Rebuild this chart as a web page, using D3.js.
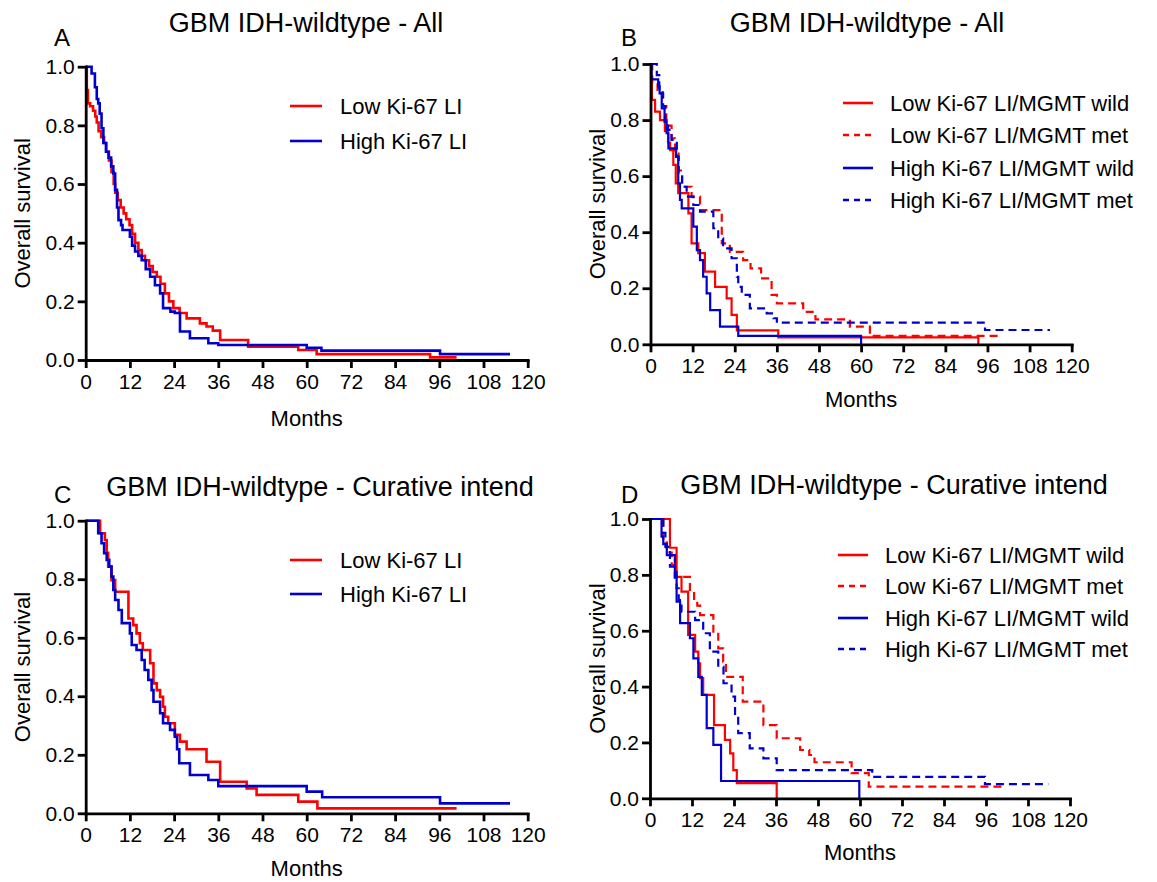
<!DOCTYPE html>
<html>
<head>
<meta charset="utf-8">
<script src="https://cdn.jsdelivr.net/npm/d3@7"></script>
<style>
  body { margin: 0; background: #fff; }
  svg { font-family: Arial, "Liberation Sans", sans-serif; }
  .axis path, .axis line { stroke: #000; stroke-width: 2.8; }
  .axis text { font-size: 21px; fill: #000; }
</style>
</head>
<body>
<div id="chart"></div>
<script>
// tick values
var monthTicks = [0, 12, 24, 36, 48, 60, 72, 84, 96, 108, 120];
var survTicks = [0, 0.2, 0.4, 0.6, 0.8, 1.0];

// Kaplan-Meier steps [month, survival]
var allLow = [[0,1.0],[0.3,0.92],[0.6,0.875],[1.2,0.865],[2.0,0.85],[2.6,0.83],[3.0,0.81],[3.5,0.78],[4.2,0.76],[5.0,0.74],[5.6,0.71],[6.3,0.68],[7.0,0.64],[7.6,0.6],[8.0,0.57],[8.7,0.545],[9.5,0.52],[10.3,0.50],[11.0,0.48],[11.9,0.46],[12.6,0.43],[13.4,0.40],[14.3,0.375],[15.2,0.355],[16.1,0.34],[17.2,0.32],[18.2,0.30],[19.3,0.284],[20.3,0.26],[21.5,0.227],[22.6,0.20],[23.8,0.177],[25.5,0.16],[27.4,0.142],[31,0.125],[32.8,0.114],[34.5,0.10],[36.5,0.068],[44.1,0.045],[57.7,0.034],[62.7,0.02],[93.5,0.009],[100.7,0.009]];
var allHigh = [[0,1.0],[1.6,0.977],[2.5,0.93],[3.0,0.89],[3.4,0.875],[3.8,0.84],[4.3,0.79],[4.8,0.74],[5.5,0.71],[6.2,0.69],[6.9,0.66],[7.5,0.636],[8.0,0.58],[8.5,0.52],[8.9,0.477],[9.6,0.46],[10.0,0.443],[12.0,0.42],[12.6,0.39],[13.4,0.37],[14.3,0.355],[15.2,0.34],[16.3,0.31],[17.5,0.284],[18.8,0.255],[20.2,0.227],[21.0,0.177],[23.0,0.165],[24.2,0.16],[25.6,0.097],[28.3,0.074],[33.3,0.057],[36,0.051],[60,0.042],[64,0.032],[96.2,0.020],[115.2,0.020]];

var allLowWild = [[0,0.93],[0.4,0.872],[1.3,0.83],[2.7,0.80],[4.1,0.76],[5.0,0.72],[5.6,0.693],[6.5,0.64],[7.2,0.574],[7.9,0.539],[10.8,0.467],[11.7,0.36],[13.6,0.325],[15.5,0.259],[18.4,0.205],[21.7,0.164],[23.1,0.105],[24.6,0.05],[36.4,0.025],[93.4,0]];
var allLowMet = [[0,1.0],[0.5,0.93],[2,0.90],[3.5,0.85],[4.5,0.78],[6,0.735],[7,0.68],[8,0.62],[9,0.562],[11.7,0.527],[14.1,0.479],[20.3,0.36],[22.6,0.33],[26.4,0.30],[28.5,0.271],[31.5,0.235],[34.5,0.176],[36,0.146],[43.5,0.116],[47,0.089],[56.8,0.063],[62.5,0.03],[100,0.03]];
var allHighWild = [[0,1.0],[0.3,0.945],[2.2,0.92],[2.6,0.895],[3.2,0.842],[4.0,0.794],[4.6,0.753],[5.1,0.699],[7.3,0.669],[7.9,0.574],[8.4,0.515],[8.9,0.485],[12.2,0.42],[13.2,0.336],[14.1,0.30],[15.0,0.241],[16.0,0.182],[17.0,0.122],[19.8,0.063],[25,0.03],[60,0]];
var allHighMet = [[0,1.0],[1.8,0.96],[2.5,0.895],[3.6,0.85],[4.2,0.80],[5.0,0.765],[6.0,0.729],[7.5,0.67],[8.0,0.61],[9.0,0.562],[10.3,0.527],[12.2,0.497],[14.1,0.473],[17.9,0.414],[19.3,0.378],[20.7,0.342],[23.1,0.307],[24.6,0.241],[25.0,0.205],[26.0,0.176],[28.3,0.128],[33.1,0.11],[35,0.093],[36,0.077],[95.3,0.051],[113.8,0.051]];

var curLow = [[0,1],[3.9,0.957],[5.2,0.934],[5.7,0.89],[6.1,0.843],[7.0,0.797],[8.0,0.757],[11.6,0.666],[12.9,0.643],[13.8,0.615],[14.7,0.581],[15.5,0.558],[17.5,0.513],[18.4,0.444],[19.3,0.421],[20.2,0.398],[21.0,0.364],[21.5,0.33],[22.4,0.308],[24.2,0.268],[25.6,0.245],[27.4,0.219],[32.8,0.176],[36.5,0.108],[43.7,0.085],[46.4,0.063],[57.7,0.04],[62.9,0.017],[100.7,0.017]];
var curHigh = [[0,1],[3.4,0.957],[4.3,0.923],[5.0,0.889],[5.7,0.866],[6.4,0.843],[7.0,0.809],[7.5,0.763],[8.0,0.729],[8.9,0.695],[9.8,0.65],[12.0,0.615],[12.5,0.575],[13.8,0.558],[15.2,0.524],[16.0,0.49],[17.0,0.456],[17.9,0.421],[18.4,0.381],[20.2,0.342],[21.0,0.308],[22.9,0.285],[24.2,0.262],[24.8,0.219],[25.4,0.171],[28.3,0.131],[33.3,0.114],[36,0.093],[60,0.074],[64.2,0.055],[96.2,0.034],[115.2,0.034]];

var curLowWild = [[0,1],[5.7,0.897],[7.6,0.793],[9.0,0.74],[10.9,0.585],[12.9,0.525],[13.8,0.483],[14.3,0.43],[15.2,0.37],[18.3,0.262],[21.4,0.209],[22.9,0.161],[23.8,0.101],[24.8,0.054],[36.2,0]];
var curLowMet = [[0,1],[3.8,0.93],[4.8,0.88],[6.2,0.835],[7.1,0.793],[11.4,0.74],[12.6,0.704],[13.5,0.69],[14.3,0.656],[18.1,0.597],[19.5,0.537],[20.9,0.489],[21.7,0.435],[26.5,0.346],[32.4,0.262],[36.2,0.215],[42.9,0.173],[45.5,0.155],[47,0.129],[57.6,0.09],[62.5,0.042],[100.5,0.042]];
var curHighWild = [[0,1],[3.3,0.937],[3.8,0.91],[4.8,0.871],[7.1,0.811],[7.6,0.704],[8.6,0.627],[11.4,0.573],[12.4,0.501],[13.8,0.435],[14.8,0.37],[16.2,0.251],[18.1,0.191],[20.3,0.062],[59.8,0]];
var curHighMet = [[0,1],[3.8,0.95],[4.4,0.9],[5.7,0.829],[7.1,0.79],[7.6,0.752],[8.2,0.71],[9.0,0.668],[12.9,0.638],[15.2,0.591],[17.1,0.525],[19.5,0.471],[21.0,0.412],[23.3,0.364],[24.3,0.298],[25.2,0.233],[28.5,0.179],[32.4,0.143],[36.2,0.101],[63.5,0.077],[95.7,0.051],[113.8,0.051]];

var legendTwo = ["Low Ki-67 LI", "High Ki-67 LI"];
var legendFour = ["Low Ki-67 LI/MGMT wild", "Low Ki-67 LI/MGMT met", "High Ki-67 LI/MGMT wild", "High Ki-67 LI/MGMT met"];

var RED = "#ff0000", BLUE = "#0000cd";

var svg = d3.select("#chart").append("svg")
    .attr("width", 1157)
    .attr("height", 882);

var panels = [
    { letter: "A", lx: 54, ly: 46, title: "GBM IDH-wildtype - All", tx: 306, ty: 32,
      x0: 85.7, x1: 527.7, y0: 360, y1: 66.7, ylabX: 22, monthsY: 426, sw: 2.6,
      series: [{ d: allLow, c: RED }, { d: allHigh, c: BLUE }],
      legend: { names: legendTwo, lx1: 290, lx2: 322, tx: 340, ys: [106, 141] } },
    { letter: "B", lx: 621, ly: 46, title: "GBM IDH-wildtype - All", tx: 867, ty: 32,
      x0: 650.5, x1: 1071.7, y0: 344.3, y1: 64, ylabX: 597, monthsY: 407, sw: 2.2,
      series: [{ d: allLowWild, c: RED }, { d: allLowMet, c: RED, dash: true },
               { d: allHighWild, c: BLUE }, { d: allHighMet, c: BLUE, dash: true }],
      legend: { names: legendFour, lx1: 843, lx2: 873, tx: 890, ys: [103, 135, 168, 200] } },
    { letter: "C", lx: 54, ly: 503, title: "GBM IDH-wildtype - Curative intend", tx: 320, ty: 496,
      x0: 85.7, x1: 527.7, y0: 813.3, y1: 520.7, ylabX: 22, monthsY: 876, sw: 2.6,
      series: [{ d: curLow, c: RED }, { d: curHigh, c: BLUE }],
      legend: { names: legendTwo, lx1: 290, lx2: 322, tx: 340, ys: [560, 594] } },
    { letter: "D", lx: 621, ly: 503, title: "GBM IDH-wildtype - Curative intend", tx: 894, ty: 494,
      x0: 650, x1: 1070, y0: 798.3, y1: 519, ylabX: 597, monthsY: 860, sw: 2.2,
      series: [{ d: curLowWild, c: RED }, { d: curLowMet, c: RED, dash: true },
               { d: curHighWild, c: BLUE }, { d: curHighMet, c: BLUE, dash: true }],
      legend: { names: legendFour, lx1: 838, lx2: 868, tx: 885, ys: [555, 586, 618, 649] } }
];

panels.forEach(function (p) {
    var g = svg.append("g");
    var x = d3.scaleLinear().domain([0, 120]).range([p.x0, p.x1]);
    var y = d3.scaleLinear().domain([0, 1]).range([p.y0, p.y1]);

    // curves first, axes on top
    var line = d3.line()
        .x(function (d) { return x(d[0]); })
        .y(function (d) { return y(d[1]); })
        .curve(d3.curveStepAfter);

    p.series.forEach(function (s) {
        g.append("path")
            .attr("d", line(s.d))
            .attr("fill", "none")
            .attr("stroke", s.c)
            .attr("stroke-width", p.sw)
            .attr("stroke-dasharray", s.dash ? "8,5" : null);
    });

    g.append("g")
        .attr("class", "axis")
        .attr("transform", "translate(0," + p.y0 + ")")
        .call(d3.axisBottom(x).tickValues(monthTicks).tickSize(8).tickSizeOuter(0).tickPadding(6))
        .call(function (a) { a.selectAll("text").attr("font-family", null).attr("font-size", null); });

    g.append("g")
        .attr("class", "axis")
        .attr("transform", "translate(" + p.x0 + ",0)")
        .call(d3.axisLeft(y).tickValues(survTicks).tickFormat(d3.format(".1f")).tickSize(8).tickSizeOuter(0).tickPadding(3))
        .call(function (a) { a.selectAll("text").attr("font-family", null).attr("font-size", null); });

    g.selectAll(".axis .domain").attr("stroke-linecap", "square");

    g.append("text")
        .attr("x", p.tx).attr("y", p.ty)
        .attr("text-anchor", "middle")
        .attr("font-size", 27)
        .text(p.title);

    g.append("text")
        .attr("x", p.lx).attr("y", p.ly)
        .attr("font-size", 24)
        .text(p.letter);

    g.append("text")
        .attr("x", (p.x0 + p.x1) / 2).attr("y", p.monthsY)
        .attr("text-anchor", "middle")
        .attr("font-size", 22)
        .text("Months");

    g.append("text")
        .attr("transform", "translate(" + p.ylabX + "," + ((p.y0 + p.y1) / 2) + ") rotate(-90)")
        .attr("text-anchor", "middle")
        .attr("dominant-baseline", "central")
        .attr("font-size", 22)
        .text("Overall survival");

    // legend
    p.series.forEach(function (s, i) {
        var ly = p.legend.ys[i];
        g.append("line")
            .attr("x1", p.legend.lx1).attr("x2", p.legend.lx2)
            .attr("y1", ly).attr("y2", ly)
            .attr("stroke", s.c)
            .attr("stroke-width", 2.6)
            .attr("stroke-dasharray", s.dash ? "6,5" : null);
        g.append("text")
            .attr("x", p.legend.tx).attr("y", ly + 8)
            .attr("font-size", 22)
            .text(p.legend.names[i]);
    });
});
</script>
</body>
</html>
